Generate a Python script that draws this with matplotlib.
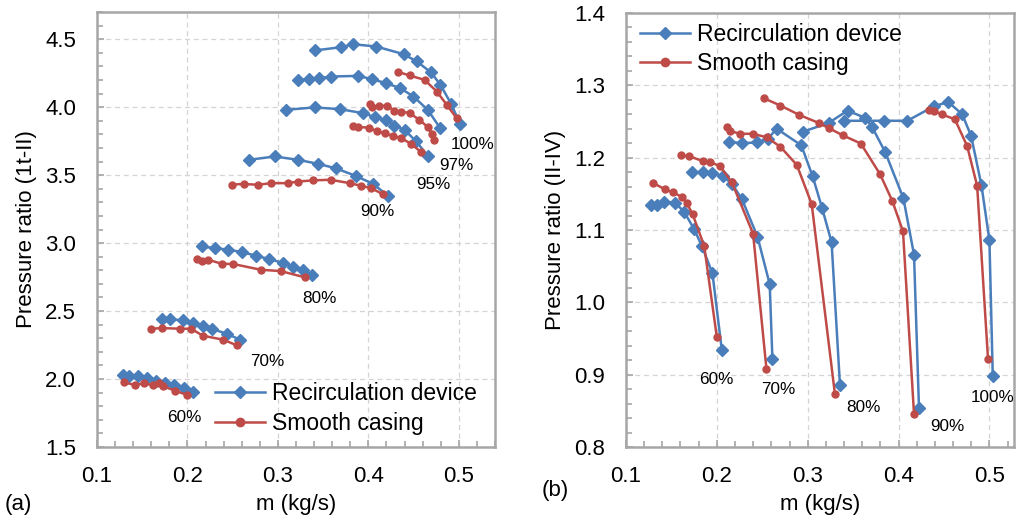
import matplotlib
matplotlib.use("Agg")
import matplotlib.pyplot as plt
from matplotlib.ticker import MultipleLocator, FormatStrFormatter

plt.rcParams["font.family"] = ["Liberation Sans", "DejaVu Sans"]

BLUE = "#4a7ebb"
RED = "#be4b48"
FRAME = "#a6a6a6"
GRID = "#d4d4d4"

speeds = ["60%", "70%", "80%", "90%", "95%", "97%", "100%"]

# ---- (a) overall pressure ratio 1t-II ----
a_rec_m = {
    "60%": [0.1285, 0.1359, 0.1448, 0.1551, 0.1654, 0.1753, 0.1853, 0.1963, 0.2066],
    "70%": [0.172, 0.181, 0.1948, 0.2066, 0.2169, 0.2276, 0.2435, 0.2582],
    "80%": [0.2158, 0.2306, 0.2453, 0.2600, 0.2759, 0.2906, 0.3061, 0.3171, 0.3274, 0.3374],
    "90%": [0.2685, 0.2963, 0.3221, 0.3442, 0.3637, 0.3858, 0.4050, 0.4215],
    "95%": [0.3085, 0.3405, 0.3689, 0.3939, 0.4079, 0.4197, 0.4289, 0.4400, 0.4529, 0.4657],
    "97%": [0.3221, 0.3343, 0.3449, 0.3582, 0.3884, 0.4042, 0.4197, 0.4352, 0.4499, 0.4657, 0.4794],
    "100%": [0.3405, 0.3700, 0.3829, 0.4087, 0.4389, 0.4536, 0.4694, 0.4797, 0.4915, 0.5015],
}
a_rec_pr = {
    "60%": [2.029, 2.025, 2.020, 2.005, 1.988, 1.968, 1.956, 1.931, 1.902],
    "70%": [2.440, 2.440, 2.431, 2.412, 2.387, 2.368, 2.333, 2.289],
    "80%": [2.975, 2.963, 2.951, 2.934, 2.907, 2.882, 2.853, 2.824, 2.799, 2.767],
    "90%": [3.613, 3.637, 3.613, 3.583, 3.551, 3.495, 3.436, 3.350],
    "95%": [3.980, 3.998, 3.985, 3.956, 3.926, 3.902, 3.865, 3.833, 3.748, 3.642],
    "97%": [4.201, 4.206, 4.211, 4.225, 4.230, 4.206, 4.176, 4.140, 4.078, 3.980, 3.846],
    "100%": [4.417, 4.441, 4.463, 4.446, 4.390, 4.336, 4.255, 4.164, 4.025, 3.875],
}
a_smo_m = {
    "60%": [0.1300, 0.1422, 0.1514, 0.1617, 0.1680, 0.1735, 0.1864, 0.2000],
    "70%": [0.160, 0.172, 0.1919, 0.2041, 0.2169, 0.2398, 0.2545],
    "80%": [0.2110, 0.2158, 0.2232, 0.2379, 0.2508, 0.2810, 0.3031, 0.3300],
    "90%": [0.249, 0.262, 0.2779, 0.2926, 0.3110, 0.3221, 0.3387, 0.3582, 0.3792, 0.3921, 0.4031, 0.4160],
    "95%": [0.3829, 0.3884, 0.4006, 0.4098, 0.4179, 0.4271, 0.4363, 0.4473, 0.4584],
    "97%": [0.4013, 0.4042, 0.4123, 0.4204, 0.4289, 0.4363, 0.4455, 0.4565, 0.4657, 0.4705, 0.4724],
    "100%": [0.4326, 0.4455, 0.4621, 0.4757, 0.4867, 0.4978],
}
a_smo_pr = {
    "60%": [1.975, 1.956, 1.968, 1.956, 1.968, 1.946, 1.914, 1.882],
    "70%": [2.370, 2.375, 2.370, 2.370, 2.319, 2.289, 2.248],
    "80%": [2.885, 2.865, 2.877, 2.848, 2.846, 2.804, 2.794, 2.748],
    "90%": [3.430, 3.435, 3.429, 3.441, 3.441, 3.453, 3.461, 3.466, 3.441, 3.422, 3.404, 3.360],
    "95%": [3.863, 3.853, 3.850, 3.821, 3.809, 3.789, 3.772, 3.730, 3.669],
    "97%": [4.025, 4.000, 4.010, 4.010, 3.975, 3.968, 3.956, 3.907, 3.853, 3.804, 3.760],
    "100%": [4.260, 4.233, 4.201, 4.115, 4.017, 3.917],
}
a_label_pos = {
    "60%": (0.196, 1.715), "70%": (0.288, 2.127), "80%": (0.346, 2.590),
    "90%": (0.410, 3.230), "95%": (0.472, 3.429), "97%": (0.497, 3.568),
    "100%": (0.515, 3.723),
}

# ---- (b) stage pressure ratio II-IV ----
b_speeds = ["60%", "70%", "80%", "90%", "100%"]
b_rec_m = {
    "60%": [0.1275, 0.1337, 0.1421, 0.1538, 0.1641, 0.1751, 0.1835, 0.1952, 0.2055],
    "70%": [0.1725, 0.1853, 0.1952, 0.2070, 0.2165, 0.2275, 0.2447, 0.2582, 0.2612],
    "80%": [0.2130, 0.2280, 0.2440, 0.2560, 0.2660, 0.2930, 0.3055, 0.3157, 0.3263, 0.3355],
    "90%": [0.2952, 0.3230, 0.3439, 0.3633, 0.3706, 0.3852, 0.4053, 0.4170, 0.4225],
    "100%": [0.3402, 0.3841, 0.4097, 0.4389, 0.4547, 0.4700, 0.4799, 0.4912, 0.5000, 0.5037],
}
b_rec_pr = {
    "60%": [1.134, 1.134, 1.139, 1.138, 1.125, 1.101, 1.078, 1.040, 0.934],
    "70%": [1.180, 1.180, 1.179, 1.174, 1.164, 1.143, 1.091, 1.025, 0.921],
    "80%": [1.222, 1.220, 1.221, 1.226, 1.240, 1.217, 1.174, 1.131, 1.083, 0.886],
    "90%": [1.236, 1.248, 1.265, 1.255, 1.243, 1.208, 1.144, 1.066, 0.854],
    "100%": [1.251, 1.251, 1.251, 1.271, 1.277, 1.260, 1.230, 1.162, 1.086, 0.898],
}
b_smo_m = {
    "60%": [0.1300, 0.1432, 0.1513, 0.1615, 0.1670, 0.1733, 0.1861, 0.2000],
    "70%": [0.1604, 0.1696, 0.1850, 0.1927, 0.2037, 0.2165, 0.2399, 0.2546],
    "80%": [0.2110, 0.2150, 0.2250, 0.2400, 0.2550, 0.2700, 0.2880, 0.3044, 0.3300],
    "90%": [0.2520, 0.2700, 0.2909, 0.3121, 0.3230, 0.3384, 0.3585, 0.3797, 0.3932, 0.4049, 0.4170],
    "100%": [0.4335, 0.4389, 0.4473, 0.4620, 0.4755, 0.4865, 0.4985],
}
b_smo_pr = {
    "60%": [1.165, 1.156, 1.152, 1.146, 1.137, 1.122, 1.078, 0.952],
    "70%": [1.203, 1.202, 1.195, 1.194, 1.188, 1.166, 1.095, 0.908],
    "80%": [1.243, 1.237, 1.233, 1.233, 1.228, 1.215, 1.190, 1.136, 0.873],
    "90%": [1.282, 1.272, 1.259, 1.248, 1.241, 1.231, 1.2195, 1.177, 1.140, 1.098, 0.846],
    "100%": [1.2655, 1.2646, 1.260, 1.253, 1.216, 1.161, 0.921],
}
b_label_pos = {
    "60%": (0.199, 0.894), "70%": (0.268, 0.880), "80%": (0.361, 0.855),
    "90%": (0.454, 0.829), "100%": (0.503, 0.869),
}

fig = plt.figure(figsize=(10.17, 5.19), dpi=100)
ax_a = fig.add_axes([0.0954, 0.1387, 0.3913, 0.8382])
ax_b = fig.add_axes([0.6155, 0.1387, 0.3815, 0.8363])

FS = 16


def style_axes(ax, xmax, ymin, ymax, ymajor, yminor, ylabel):
    ax.set_xlim(0.1, xmax)
    ax.set_ylim(ymin, ymax)
    ax.xaxis.set_major_locator(MultipleLocator(0.1))
    ax.xaxis.set_minor_locator(MultipleLocator(0.02))
    ax.yaxis.set_major_locator(MultipleLocator(ymajor))
    ax.yaxis.set_minor_locator(MultipleLocator(yminor))
    ax.xaxis.set_major_formatter(FormatStrFormatter("%.1f"))
    ax.yaxis.set_major_formatter(FormatStrFormatter("%.1f"))
    ax.grid(True, which="major", color=GRID, linestyle=(0, (4, 3)), linewidth=0.9)
    ax.set_axisbelow(True)
    for s in ax.spines.values():
        s.set_color(FRAME)
        s.set_linewidth(1.8)
    ax.tick_params(which="both", direction="in", color=FRAME, width=1.2,
                   top=False, right=False, labelsize=FS, labelcolor="black")
    ax.tick_params(which="major", length=5)
    ax.tick_params(which="minor", length=4)
    ax.tick_params(axis="y", pad=15)
    ax.tick_params(axis="x", pad=14)
    ax.set_xlabel("m (kg/s)", fontsize=FS, labelpad=5)
    ax.set_ylabel(ylabel, fontsize=FS, labelpad=6)


style_axes(ax_a, 0.54, 1.5, 4.7, 0.5, 0.1, "Pressure ratio (1t-II)")
style_axes(ax_b, 0.527, 0.8, 1.4, 0.1, 0.02, "Pressure ratio (II-IV)")

rec_kw = dict(color=BLUE, lw=1.8, marker="D", ms=6.5, mec=BLUE, mfc=BLUE)
smo_kw = dict(color=RED, lw=1.8, marker="o", ms=5, mec=RED, mfc=RED)

for i, sp in enumerate(speeds):
    ax_a.plot(a_rec_m[sp], a_rec_pr[sp], label="Recirculation device" if i == 0 else None, **rec_kw)
    ax_a.plot(a_smo_m[sp], a_smo_pr[sp], label="Smooth casing" if i == 0 else None, **smo_kw)
    ax_a.text(*a_label_pos[sp], sp, fontsize=12.3, ha="center", va="center")

for i, sp in enumerate(b_speeds):
    ax_b.plot(b_rec_m[sp], b_rec_pr[sp], label="Recirculation device" if i == 0 else None, **rec_kw)
    ax_b.plot(b_smo_m[sp], b_smo_pr[sp], label="Smooth casing" if i == 0 else None, **smo_kw)
    ax_b.text(*b_label_pos[sp], sp, fontsize=12.3, ha="center", va="center")

leg_kw = dict(frameon=False, fontsize=16.5, handlelength=2.2, handletextpad=0.3,
              labelspacing=0.3, borderaxespad=0.0, borderpad=0.0)
leg_a = ax_a.legend(loc="upper left", bbox_to_anchor=(0.296, 0.15), **leg_kw)
leg_b = ax_b.legend(loc="upper left", bbox_to_anchor=(0.036, 0.978), **leg_kw)
for leg in (leg_a, leg_b):
    for h in leg.legend_handles:
        h.set_markersize(6)

fig.text(0.005, 0.008, "(a)", fontsize=FS, ha="left", va="bottom")
fig.text(0.533, 0.035, "(b)", fontsize=FS, ha="left", va="bottom")

fig.savefig("out.png", dpi=100)
